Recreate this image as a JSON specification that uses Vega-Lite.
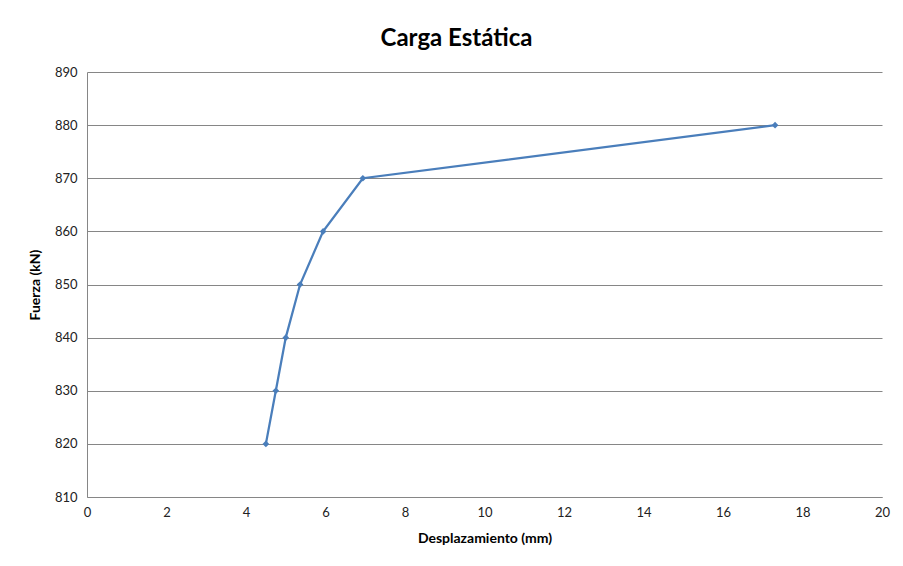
{
  "$schema": "https://vega.github.io/schema/vega-lite/v6.json",
  "width": 795,
  "height": 425,
  "autosize": {"type": "none"},
  "padding": {"left": 87, "top": 72, "right": 21, "bottom": 69},
  "background": "white",
  "title": {
    "text": "Carga Estática",
    "font": "Lato",
    "fontSize": 24,
    "fontWeight": "bold",
    "color": "#000000",
    "anchor": "middle",
    "dx": -28,
    "offset": 15
  },
  "data": {
    "values": [
      {"d": 4.50, "f": 820},
      {"d": 4.75, "f": 830},
      {"d": 5.00, "f": 840},
      {"d": 5.36, "f": 850},
      {"d": 5.94, "f": 860},
      {"d": 6.94, "f": 870},
      {"d": 17.31, "f": 880}
    ]
  },
  "mark": {
    "type": "line",
    "color": "#4A7EBB",
    "strokeWidth": 2.25,
    "point": {"shape": "diamond", "size": 45, "filled": true, "color": "#4A7EBB"}
  },
  "encoding": {
    "x": {
      "field": "d",
      "type": "quantitative",
      "scale": {"domain": [0, 20], "nice": false},
      "axis": {
        "title": "Desplazamiento (mm)",
        "values": [0, 2, 4, 6, 8, 10, 12, 14, 16, 18, 20],
        "grid": false,
        "ticks": false,
        "domain": true,
        "domainColor": "#868686",
        "labelFlush": false,
        "labelPadding": 9,
        "titlePadding": 12
      }
    },
    "y": {
      "field": "f",
      "type": "quantitative",
      "scale": {"domain": [810, 890], "nice": false, "zero": false},
      "axis": {
        "title": "Fuerza (kN)",
        "values": [810, 820, 830, 840, 850, 860, 870, 880, 890],
        "grid": true,
        "gridColor": "#868686",
        "gridWidth": 1,
        "ticks": false,
        "domain": true,
        "domainColor": "#868686",
        "labelFlush": false,
        "labelPadding": 10,
        "titlePadding": 12
      }
    }
  },
  "config": {
    "view": {"stroke": null},
    "axis": {
      "labelFont": "Lato",
      "labelFontSize": 13,
      "labelColor": "#222222",
      "titleFont": "Lato",
      "titleFontSize": 14,
      "titleFontWeight": "bold",
      "titleColor": "#000000"
    }
  }
}
